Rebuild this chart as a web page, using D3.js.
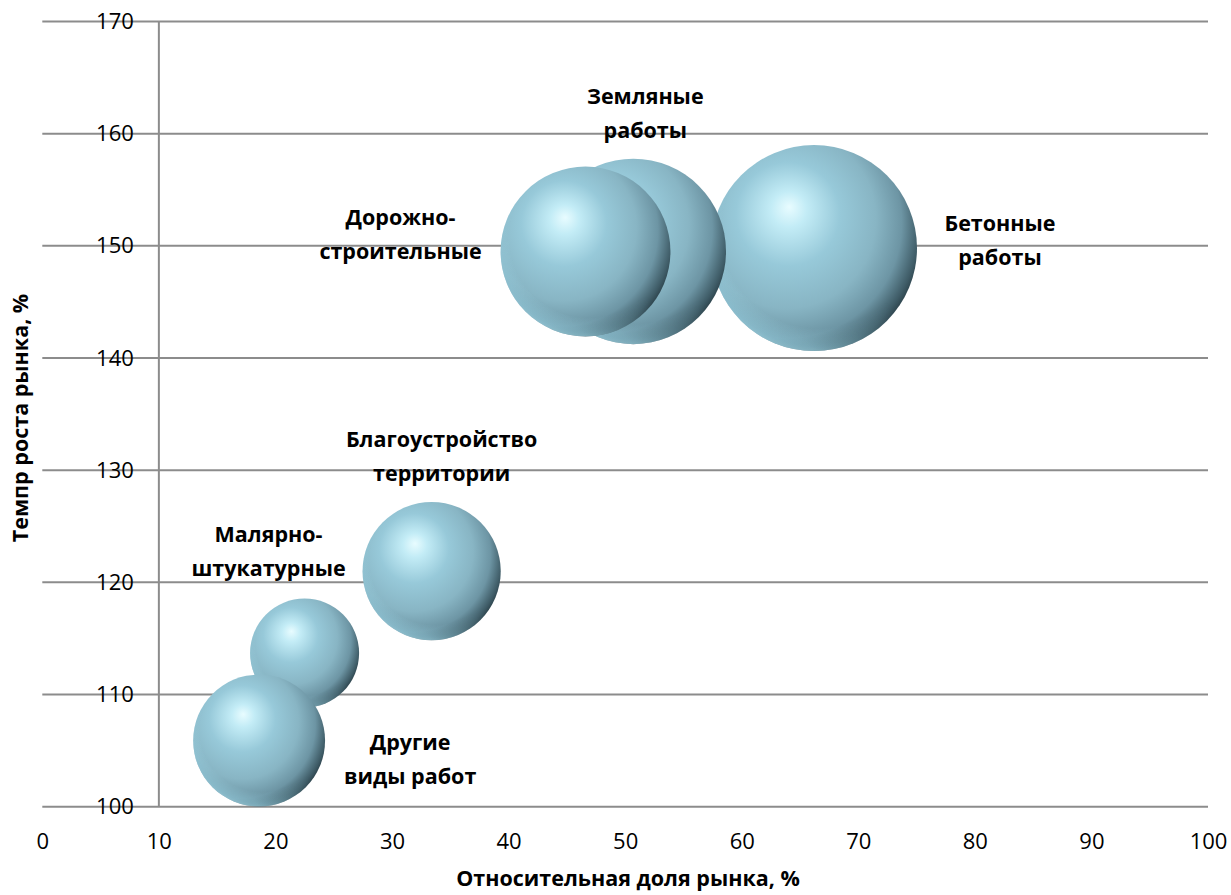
<!DOCTYPE html>
<html><head><meta charset="utf-8">
<script src="https://cdn.jsdelivr.net/npm/d3@7/dist/d3.min.js"></script>
<style>
html,body{margin:0;padding:0;background:#fff;}
svg{display:block;font-family:"Open Sans",sans-serif;}
</style></head>
<body><svg id="chart" width="1231" height="895"></svg>
<script>
// ---- data (drawing order as in the original) ----
const categories = ["Бетонные работы", "Земляные работы", "Дорожно-строительные", "Благоустройство территории", "Малярно-штукатурные", "Другие виды работ"];
const labelLines = [["Бетонные","работы"],["Земляные","работы"],["Дорожно-","строительные"],["Благоустройство","территории"],["Малярно-","штукатурные"],["Другие","виды работ"]];
const shareValues = [66.2, 50.7, 46.6, 33.4, 22.5, 18.6];      // x: relative market share, %
const growthValues = [149.8, 149.5, 149.5, 121.0, 113.7, 105.9]; // y: market growth rate, %
const bubbleSizes = [100, 81, 68, 45, 28, 41];                   // bubble size (area)
const xTicks = [0,10,20,30,40,50,60,70,80,90,100];
const yTicks = [100,110,120,130,140,150,160,170];
const xTitle = "Относительная доля рынка, %";
const yTitle = "Темпр роста рынка, %";

// ---- label layout (offsets of first line from bubble centre, px) ----
const labelLayout = {
  "Бетонные работы":            {dx: 186, dy: -23},
  "Земляные работы":            {dx: 12,  dy: -153},
  "Дорожно-строительные":       {dx: -185, dy: -32},
  "Благоустройство территории": {dx: 10,  dy: -130},
  "Малярно-штукатурные":        {dx: -36, dy: -117},
  "Другие виды работ":          {dx: 151, dy: 3}
};

const svg = d3.select("#chart");
const x = d3.scaleLinear().domain([0,100]).range([42.3, 1208]);
const y = d3.scaleLinear().domain([100,170]).range([806.7, 21.5]);
const r = d3.scaleSqrt().domain([0,100]).range([0,103]);

const gridColor = "#8c8c8c";

// gridlines
svg.append("g").selectAll("line").data(yTicks).join("line")
  .attr("x1", x(0)).attr("x2", x(100))
  .attr("y1", d=>y(d)).attr("y2", d=>y(d))
  .attr("stroke", gridColor).attr("stroke-width", 2);

// vertical axis line at x = 10
svg.append("line").attr("x1", x(10)).attr("x2", x(10))
  .attr("y1", y(170)).attr("y2", y(100))
  .attr("stroke", gridColor).attr("stroke-width", 2);

// y tick labels
const yAxis = d3.axisLeft(y).tickValues(yTicks).tickSize(0).tickPadding(0);
const gy = svg.append("g").attr("transform", `translate(${x(10)-25},0)`).call(yAxis);
gy.select(".domain").remove();
gy.selectAll("text").attr("font-size", 22).attr("fill", "#000")
  .attr("font-family", "Open Sans");

// x tick labels
const xAxis = d3.axisBottom(x).tickValues(xTicks).tickSize(0).tickPadding(0);
const gx = svg.append("g").attr("transform", `translate(0,${y(100)+27})`).call(xAxis);
gx.select(".domain").remove();
gx.selectAll("text").attr("font-size", 22).attr("fill", "#000")
  .attr("font-family", "Open Sans");

// gradients
const defs = svg.append("defs");
const g1 = defs.append("radialGradient").attr("id","sphere")
  .attr("cx","0.36").attr("cy","0.4").attr("r","0.72")
  .attr("fx","0.38").attr("fy","0.3");
[[0,"#e8fcff"],[0.12,"#c3ecf6"],[0.35,"#97c9d9"],[0.6,"#88b5c4"],[0.78,"#6d95a4"],[0.9,"#3f5c67"],[1,"#152228"]]
  .forEach(([o,c])=>g1.append("stop").attr("offset",o).attr("stop-color",c));
const g2 = defs.append("radialGradient").attr("id","rim")
  .attr("cx","0.52").attr("cy","0.42").attr("r","0.6");
[[0,"rgba(160,215,230,0)"],[0.78,"rgba(160,215,230,0)"],[0.93,"rgba(150,205,222,0.55)"],[1,"rgba(170,222,236,0.7)"]]
  .forEach(([o,c])=>g2.append("stop").attr("offset",o).attr("stop-color",c));
const g3 = defs.append("linearGradient").attr("id","rimMask")
  .attr("x1","1").attr("y1","0").attr("x2","0").attr("y2","1");
[[0,"#000"],[0.45,"#000"],[0.75,"#fff"],[1,"#fff"]]
  .forEach(([o,c])=>g3.append("stop").attr("offset",o).attr("stop-color",c));
defs.append("mask").attr("id","rm").attr("maskContentUnits","objectBoundingBox")
  .append("rect").attr("width",1).attr("height",1).attr("fill","url(#rimMask)");

// bubbles
const bubbles = categories.map((c,i)=>({c, lines: labelLines[i], sx: shareValues[i], gy: growthValues[i], s: bubbleSizes[i]}));
const bg = svg.append("g");
bubbles.forEach(d=>{
  const g = bg.append("g");
  g.append("circle").attr("cx", x(d.sx)).attr("cy", y(d.gy)).attr("r", r(d.s)).attr("fill","url(#sphere)");
  g.append("circle").attr("cx", x(d.sx)).attr("cy", y(d.gy)).attr("r", r(d.s)).attr("fill","url(#rim)").attr("mask","url(#rm)");
});

// data labels
const lg = svg.append("g");
bubbles.forEach(d=>{
  const L = labelLayout[d.c];
  const t = lg.append("text")
    .attr("x", x(d.sx)+L.dx).attr("y", y(d.gy)+L.dy)
    .attr("text-anchor", "middle").attr("font-weight", 700).attr("font-size", 21.5)
    .attr("dominant-baseline","middle").attr("fill","#000");
  d.lines.forEach((ln,i)=>{
    t.append("tspan").attr("x", x(d.sx)+L.dx).attr("dy", i===0? 0 : 34).text(ln);
  });
});

// axis titles
svg.append("text").attr("x", 628).attr("y", 880).attr("text-anchor","middle")
  .attr("dominant-baseline","middle").attr("font-weight",700).attr("font-size",21.5).text(xTitle);
svg.append("text").attr("transform","translate(22,418) rotate(-90)").attr("text-anchor","middle")
  .attr("dominant-baseline","middle").attr("font-weight",700).attr("font-size",21.5).text(yTitle);
</script></body></html>
